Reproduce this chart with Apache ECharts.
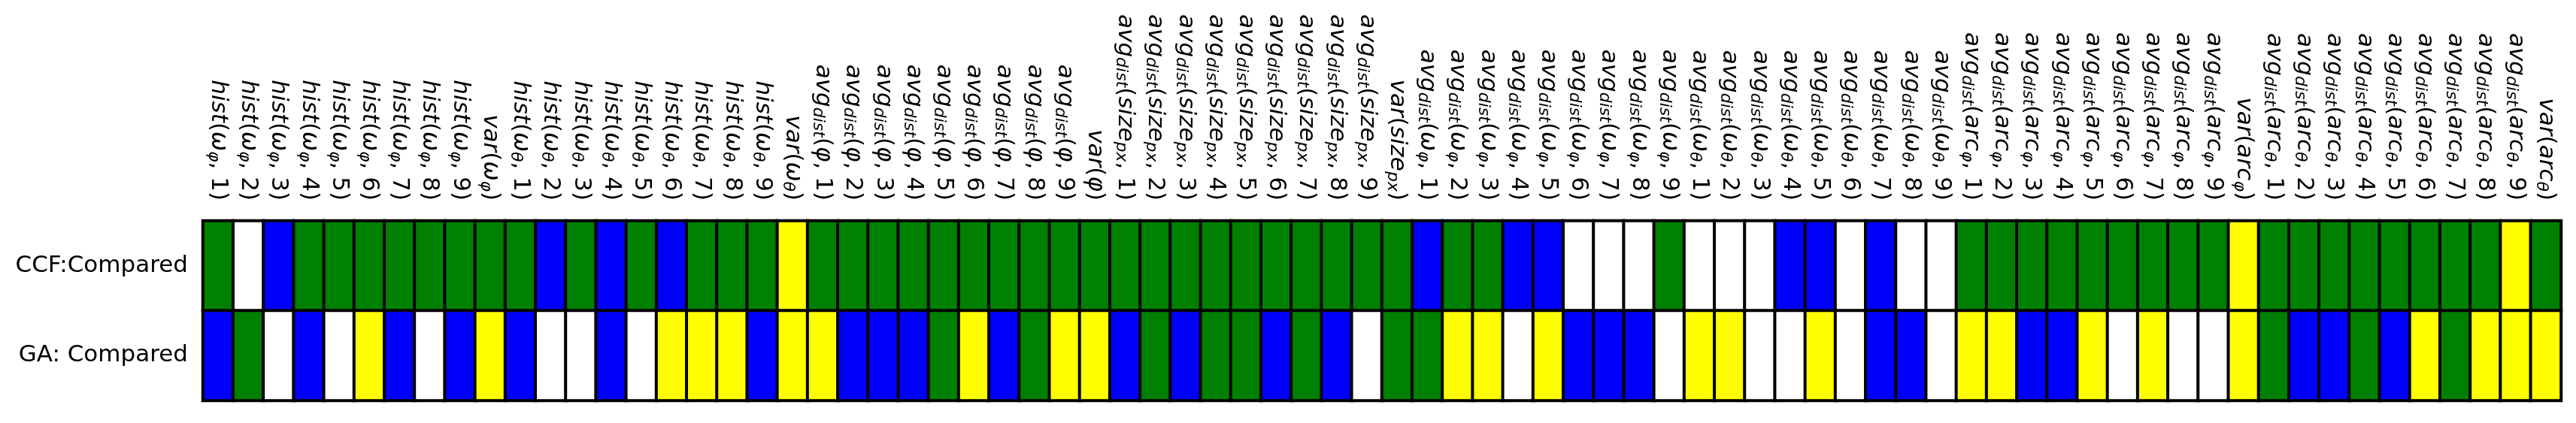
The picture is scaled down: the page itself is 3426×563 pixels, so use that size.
<!DOCTYPE html>
<html>
<head>
<meta charset="utf-8">
<script src="https://cdn.jsdelivr.net/npm/echarts@6/dist/echarts.min.js"></script>
<style>
html, body { margin: 0; padding: 0; background: #ffffff; }
#chart { width: 3426px; height: 563px; }
</style>
</head>
<body>
<div id="chart"></div>
<script>
// Row labels (top to bottom)
const rowLabels = ['CCF:Compared', 'GA: Compared'];

// Column (feature) labels; "_{...}" marks a subscript
const featureLabels = [
  'hist(ω_{φ}, 1)', 'hist(ω_{φ}, 2)', 'hist(ω_{φ}, 3)', 'hist(ω_{φ}, 4)', 'hist(ω_{φ}, 5)',
  'hist(ω_{φ}, 6)', 'hist(ω_{φ}, 7)', 'hist(ω_{φ}, 8)', 'hist(ω_{φ}, 9)', 'var(ω_{φ})',
  'hist(ω_{θ}, 1)', 'hist(ω_{θ}, 2)', 'hist(ω_{θ}, 3)', 'hist(ω_{θ}, 4)', 'hist(ω_{θ}, 5)',
  'hist(ω_{θ}, 6)', 'hist(ω_{θ}, 7)', 'hist(ω_{θ}, 8)', 'hist(ω_{θ}, 9)', 'var(ω_{θ})',
  'avg_{dist}(φ, 1)', 'avg_{dist}(φ, 2)', 'avg_{dist}(φ, 3)', 'avg_{dist}(φ, 4)', 'avg_{dist}(φ, 5)',
  'avg_{dist}(φ, 6)', 'avg_{dist}(φ, 7)', 'avg_{dist}(φ, 8)', 'avg_{dist}(φ, 9)', 'var(φ)',
  'avg_{dist}(size_{px}, 1)', 'avg_{dist}(size_{px}, 2)', 'avg_{dist}(size_{px}, 3)',
  'avg_{dist}(size_{px}, 4)', 'avg_{dist}(size_{px}, 5)', 'avg_{dist}(size_{px}, 6)',
  'avg_{dist}(size_{px}, 7)', 'avg_{dist}(size_{px}, 8)', 'avg_{dist}(size_{px}, 9)', 'var(size_{px})',
  'avg_{dist}(ω_{φ}, 1)', 'avg_{dist}(ω_{φ}, 2)', 'avg_{dist}(ω_{φ}, 3)', 'avg_{dist}(ω_{φ}, 4)',
  'avg_{dist}(ω_{φ}, 5)', 'avg_{dist}(ω_{φ}, 6)', 'avg_{dist}(ω_{φ}, 7)', 'avg_{dist}(ω_{φ}, 8)',
  'avg_{dist}(ω_{φ}, 9)',
  'avg_{dist}(ω_{θ}, 1)', 'avg_{dist}(ω_{θ}, 2)', 'avg_{dist}(ω_{θ}, 3)', 'avg_{dist}(ω_{θ}, 4)',
  'avg_{dist}(ω_{θ}, 5)', 'avg_{dist}(ω_{θ}, 6)', 'avg_{dist}(ω_{θ}, 7)', 'avg_{dist}(ω_{θ}, 8)',
  'avg_{dist}(ω_{θ}, 9)',
  'avg_{dist}(arc_{φ}, 1)', 'avg_{dist}(arc_{φ}, 2)', 'avg_{dist}(arc_{φ}, 3)', 'avg_{dist}(arc_{φ}, 4)',
  'avg_{dist}(arc_{φ}, 5)', 'avg_{dist}(arc_{φ}, 6)', 'avg_{dist}(arc_{φ}, 7)', 'avg_{dist}(arc_{φ}, 8)',
  'avg_{dist}(arc_{φ}, 9)', 'var(arc_{φ})',
  'avg_{dist}(arc_{θ}, 1)', 'avg_{dist}(arc_{θ}, 2)', 'avg_{dist}(arc_{θ}, 3)', 'avg_{dist}(arc_{θ}, 4)',
  'avg_{dist}(arc_{θ}, 5)', 'avg_{dist}(arc_{θ}, 6)', 'avg_{dist}(arc_{θ}, 7)', 'avg_{dist}(arc_{θ}, 8)',
  'avg_{dist}(arc_{θ}, 9)', 'var(arc_{θ})'
];

// Cell status codes: 0 = white, 1 = green, 2 = blue, 3 = yellow
const ccfCompared = [
  1,0,2,1,1,1,1,1,1,1,
  1,2,1,2,1,2,1,1,1,3,
  1,1,1,1,1,1,1,1,1,1,
  1,1,1,1,1,1,1,1,1,1,
  2,1,1,2,2,0,0,0,1,
  0,0,0,2,2,0,2,0,0,
  1,1,1,1,1,1,1,1,1,3,
  1,1,1,1,1,1,1,1,3,1
];
const gaCompared = [
  2,1,0,2,0,3,2,0,2,3,
  2,0,0,2,0,3,3,3,2,3,
  3,2,2,2,1,3,2,1,3,3,
  2,1,2,1,1,2,1,2,0,1,
  1,3,3,0,3,2,2,2,0,
  3,3,0,0,3,0,2,2,0,
  3,3,2,2,3,0,3,0,0,3,
  1,2,2,1,2,3,1,3,3,3
];

const statusColors = ['#ffffff', '#008000', '#0000ff', '#ffff00'];

const rows = [ccfCompared, gaCompared];
const cells = [];
rows.forEach(function (row, r) {
  row.forEach(function (v, c) { cells.push([c, r, v]); });
});

function toRich(s) {
  let out = '', buf = '', cur = null, i = 0;
  function flush() { if (buf) { out += '{' + cur + '|' + buf + '}'; buf = ''; } }
  while (i < s.length) {
    const ch = s[i];
    if (ch === '_' && s[i + 1] === '{') {
      const j = s.indexOf('}', i);
      flush(); cur = null;
      out += '{sub|' + s.slice(i + 2, j) + '}';
      i = j + 1;
      continue;
    }
    const st = /[A-Za-z\u03b1-\u03c9]/.test(ch) ? 'it' : 'up';
    if (st !== cur) { flush(); cur = st; }
    buf += ch;
    i++;
  }
  flush();
  return out;
}

const FONT = "'DejaVu Sans', sans-serif";
const chart = echarts.init(document.getElementById('chart'), null, { renderer: 'canvas' });
chart.setOption({
  animation: false,
  backgroundColor: '#ffffff',
  grid: { left: 270, right: 20, top: 294, bottom: 30, containLabel: false, outerBoundsMode: 'none' },
  xAxis: {
    type: 'category',
    position: 'top',
    data: featureLabels,
    axisLine: { show: false },
    axisTick: { show: false },
    splitLine: { show: false },
    axisLabel: {
      interval: 0,
      rotate: 90,
      margin: 27,
      hideOverlap: false,
      overflow: 'none',
      color: '#000000',
      formatter: function (v) { return toRich(v); },
      rich: {
        it: { fontFamily: FONT, fontStyle: 'italic', fontSize: 31, color: '#000' },
        up: { fontFamily: FONT, fontStyle: 'normal', fontSize: 31, color: '#000' },
        sub: { fontFamily: FONT, fontStyle: 'italic', fontSize: 22, color: '#000', padding: [12, 0, 0, 0] }
      }
    }
  },
  yAxis: {
    type: 'category',
    data: rowLabels,
    inverse: true,
    axisLine: { show: false },
    axisTick: { show: false },
    splitLine: { show: false },
    axisLabel: { margin: 20, color: '#000000', fontFamily: FONT, fontSize: 31, overflow: 'none' }
  },
  visualMap: {
    type: 'piecewise',
    show: false,
    dimension: 2,
    pieces: statusColors.map(function (c, k) { return { value: k, color: c }; })
  },
  series: [{
    type: 'heatmap',
    data: cells,
    itemStyle: { borderColor: '#000000', borderWidth: 4 },
    emphasis: { disabled: true },
    label: { show: false }
  }]
});
</script>
</body>
</html>
